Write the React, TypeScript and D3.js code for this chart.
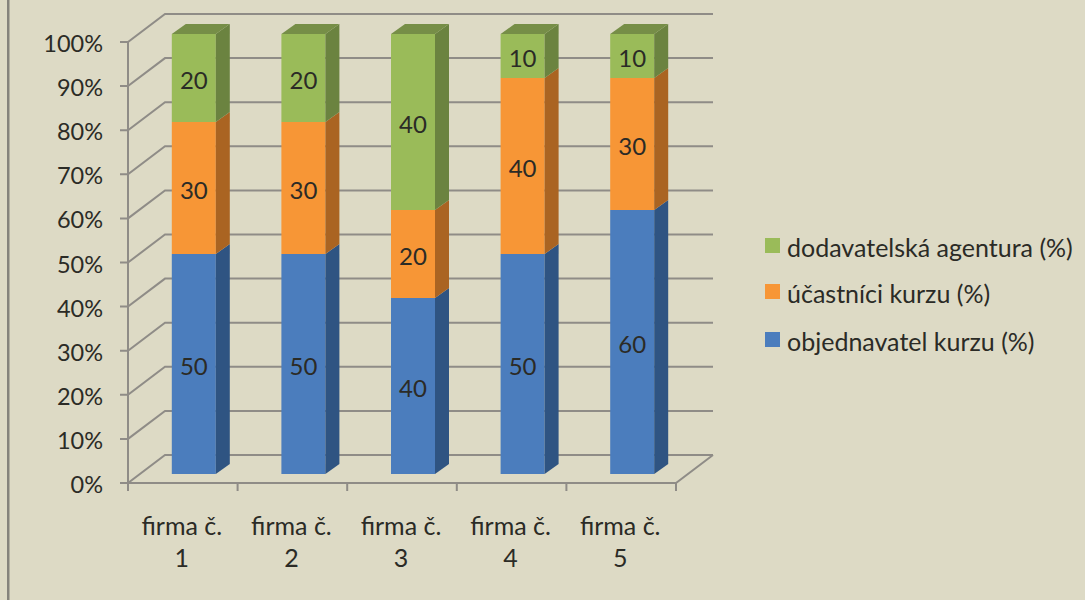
import React from "react";
import * as d3 from "d3";

const firms = ["1", "2", "3", "4", "5"];
const clientShare = [50, 50, 40, 50, 60];
const participantShare = [30, 30, 20, 40, 30];
const agencyShare = [20, 20, 40, 10, 10];
const ticks = [0, 10, 20, 30, 40, 50, 60, 70, 80, 90, 100];

const seriesKeys = ["client", "participants", "agency"];
const seriesColors: Record<string, { front: string; side: string; top: string }> = {
  client: { front: "#4b7dbd", side: "#2f5482", top: "#3a6397" },
  participants: { front: "#f79636", side: "#aa6422", top: "#b9702a" },
  agency: { front: "#9abb59", side: "#6b8340", top: "#768e47" },
};
const legendItems = [
  { key: "agency", label: "dodavatelská agentura (%)", y: 246 },
  { key: "participants", label: "účastníci kurzu (%)", y: 292 },
  { key: "client", label: "objednavatel kurzu (%)", y: 340 },
];

const FONT = "Lato, 'Open Sans', sans-serif";
const INK = "#2b2b26";
const GRID = "#8f8c87";

// Oblique projection: wall depth and bar depth as screen offsets.
const wall = { dx: 37, dy: -28 };
const bar = { dx: 14, dy: -10, width: 44 };

export default function App() {
  const axisY = d3.scaleLinear().domain([0, 100]).range([483, 42]);
  const barY = d3.scaleLinear().domain([0, 100]).range([474, 34]);
  const x = d3.scaleBand().domain(firms).range([128, 676]);
  const rows = firms.map((firm, i) => ({
    firm,
    client: clientShare[i],
    participants: participantShare[i],
    agency: agencyShare[i],
  }));
  const stacked = d3.stack<any>().keys(seriesKeys)(rows);
  const barLeft = (firm: string) => x(firm)! + x.bandwidth() / 2 - 11;
  const right = x.range()[1];
  const left = x.range()[0];
  const tickEdges = [...firms.map((f) => x(f)!), right];

  return (
    <svg
      width={1085}
      height={600}
      style={{ position: "absolute", left: 0, top: 0, display: "block" }}
      fontFamily={FONT}
    >
      <rect width={1085} height={600} fill="#dddac5" />
      <rect x={7} width={2.5} height={600} fill="#85837c" />

      {/* back wall gridlines and their returns along the side wall */}
      <g stroke={GRID} strokeWidth={2} fill="none">
        {ticks.map((t) => (
          <path
            key={t}
            d={`M${left - 8},${axisY(t)}H${left}L${left + wall.dx},${axisY(t) + wall.dy}H${right + wall.dx}`}
          />
        ))}
        <path d={`M${left},${axisY(100)}V${axisY(0) + 8}`} />
        <path
          d={`M${left},${axisY(0)}H${right}L${right + wall.dx},${axisY(0) + wall.dy}`}
        />
        {tickEdges.map((e) => (
          <path key={e} d={`M${e},${axisY(0)}v8`} />
        ))}
      </g>

      {/* stacked 3D columns */}
      {rows.map((row) => (
        <g key={row.firm}>
          {stacked.map((s) => {
            const d = s.find((p) => p.data.firm === row.firm)!;
            const c = seriesColors[s.key];
            const x0 = barLeft(row.firm);
            const x1 = x0 + bar.width;
            const yTop = barY(d[1]);
            const yBottom = barY(d[0]);
            return (
              <g key={s.key}>
                <rect x={x0} y={yTop} width={bar.width} height={yBottom - yTop} fill={c.front} />
                <path
                  d={`M${x1},${yTop}l${bar.dx},${bar.dy}V${yBottom + bar.dy}L${x1},${yBottom}Z`}
                  fill={c.side}
                />
                {d[1] === 100 && (
                  <path
                    d={`M${x0},${yTop}l${bar.dx},${bar.dy}h${bar.width}l${-bar.dx},${-bar.dy}Z`}
                    fill={c.top}
                  />
                )}
                <text
                  x={x0 + bar.width / 2}
                  y={(yTop + yBottom) / 2 + 1}
                  fontSize={24}
                  textAnchor="middle"
                  dominantBaseline="central"
                  fill={INK}
                >
                  {d[1] - d[0]}
                </text>
              </g>
            );
          })}
        </g>
      ))}

      {/* percentage axis */}
      {ticks.map((t) => (
        <text
          key={t}
          x={103}
          y={axisY(t) + 1}
          fontSize={23.5}
          textAnchor="end"
          dominantBaseline="central"
          fill={INK}
        >
          {t}%
        </text>
      ))}

      {/* firm axis */}
      {firms.map((f) => (
        <text key={f} fontSize={25} textAnchor="middle" fill={INK}>
          <tspan x={x(f)! + x.bandwidth() / 2 - 1} y={535}>
            firma č.
          </tspan>
          <tspan x={x(f)! + x.bandwidth() / 2 - 1} y={567}>
            {f}
          </tspan>
        </text>
      ))}

      {/* legend */}
      {legendItems.map((l) => (
        <g key={l.key}>
          <rect x={765} y={l.y - 8} width={15} height={15} fill={seriesColors[l.key].front} />
          <text x={787} y={l.y + 1} fontSize={25} dominantBaseline="central" fill={INK}>
            {l.label}
          </text>
        </g>
      ))}
    </svg>
  );
}
